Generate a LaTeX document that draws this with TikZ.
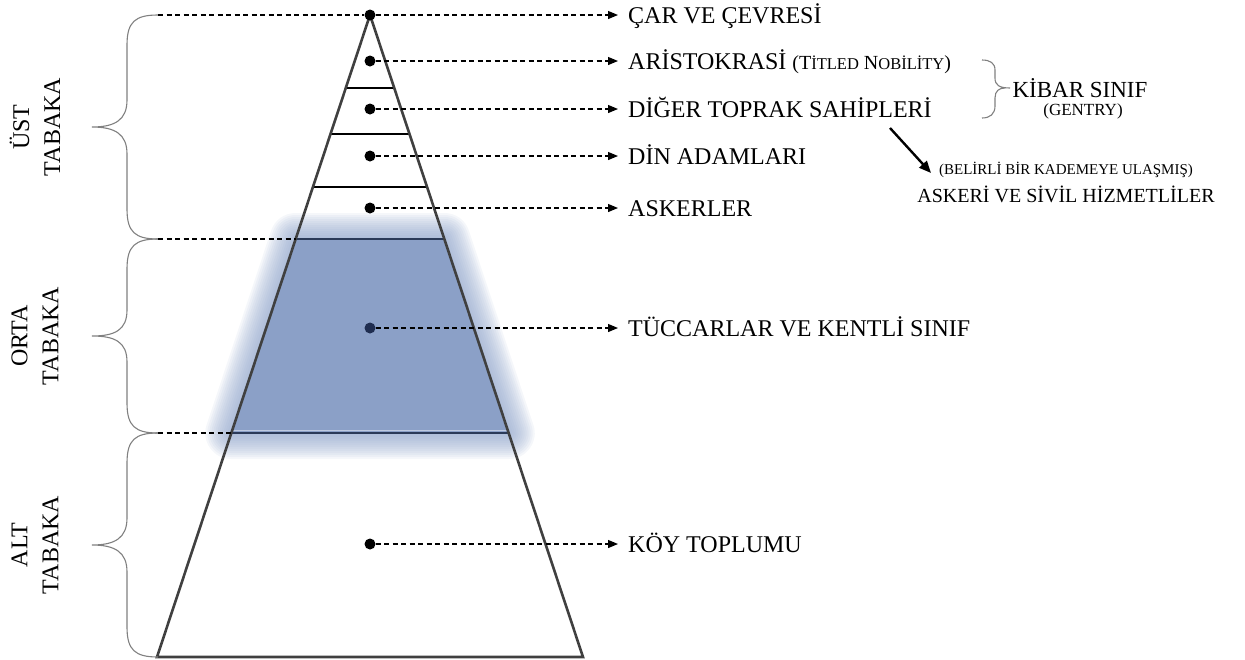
\documentclass[tikz,border=0pt]{standalone}
\usepackage{fontspec}
\setmainfont{Liberation Serif}
\usetikzlibrary{arrows.meta}
\definecolor{outl}{HTML}{404040}
\definecolor{navy}{HTML}{2B3A58}
\definecolor{navydot}{HTML}{1F2D50}
\definecolor{fillb}{HTML}{8BA0C7}
\definecolor{glowb}{HTML}{8FA4CA}
\definecolor{bracec}{HTML}{808080}
\begin{document}
\begin{tikzpicture}[x=1pt,y=-1pt,
  dot/.style={circle, fill=black, inner sep=0pt, minimum size=11pt},
  lbl/.style={anchor=west, inner xsep=10pt, inner ysep=0pt, text height=16pt, text depth=0pt, font=\fontsize{24}{24}\selectfont},
  dasharrow/.style={line width=1.2pt, dash pattern=on 5pt off 3.5pt, -{Triangle[length=10pt,width=8pt]}},
  dashl/.style={line width=1.2pt, dash pattern=on 5pt off 3.5pt},
  bracel/.style={bracec, line width=1.1pt},
  sidelbl/.style={rotate=90, align=center, font=\fontsize{24}{31}\selectfont},
  pyr/.style={outl, line width=2.6pt, line join=miter},
  inner/.style={black, line width=1.4pt},
  navyline/.style={navy, line width=1.6pt}
]
\useasboundingbox (0,0) rectangle (1245,659);

% glow of the middle band
\foreach \w in {52,48,...,4}
  \draw[glowb, line width=\w pt, opacity=0.09, line join=round]
    (295.7,239) -- (444.3,239) -- (508.7,433) -- (231.3,433) -- cycle;
\fill[fillb] (295.7,239) -- (444.3,239) -- (508.7,433) -- (231.3,433) -- cycle;
\draw[white, opacity=0.45, line width=1.5pt] (232.5,430.5) -- (507.5,430.5);

% pyramid
\coordinate (A) at (370,15);
\coordinate (BL) at (157,657);
\coordinate (BR) at (583,657);
\draw[inner] (345.8,88) -- (394.2,88);
\draw[inner] (330.5,134) -- (409.5,134);
\draw[inner] (312.9,187) -- (427.1,187);
\draw[navyline] (295.7,239) -- (444.3,239);
\draw[navyline] (231.3,433) -- (508.7,433);
\draw[pyr] (A) -- (BL) -- (BR) -- cycle;

% left braces
\coordinate (b1t) at (158,15);
\coordinate (b1b) at (158,239);
\coordinate (b2b) at (158,433);
\coordinate (b3b) at (158,657);
\coordinate (m239) at (295.7,239);
\coordinate (m433) at (231.3,433);
\draw[bracel] (b1t) .. controls (135,15) and (127,22) .. (127,45) -- (127,100)
  .. controls (127,120) and (115,127) .. (92,127)
  .. controls (115,127) and (127,134) .. (127,154) -- (127,209)
  .. controls (127,232) and (135,239) .. (b1b);
\draw[bracel] (b1b) .. controls (135,239) and (127,246) .. (127,269) -- (127,310)
  .. controls (127,330) and (115,336) .. (92,336)
  .. controls (115,336) and (127,342) .. (127,362) -- (127,403)
  .. controls (127,426) and (135,433) .. (b2b);
\draw[bracel] (b2b) .. controls (135,433) and (127,440) .. (127,463) -- (127,518)
  .. controls (127,538) and (115,545) .. (92,545)
  .. controls (115,545) and (127,552) .. (127,572) -- (127,627)
  .. controls (127,650) and (135,657) .. (b3b);

\node[sidelbl] (ust) at (35,127) {ÜST\\TABAKA};
\node[sidelbl] (orta) at (35,336) {ORTA\\TABAKA};
\node[sidelbl] (alt) at (35,545) {ALT\\TABAKA};

% dots
\node[dot] (d1) at (370,15) {};
\node[dot] (d2) at (370,61) {};
\node[dot] (d3) at (370,109) {};
\node[dot] (d4) at (370,156) {};
\node[dot] (d5) at (370,208) {};
\node[dot, fill=navydot] (d6) at (370,328) {};
\node[dot] (d7) at (370,544) {};

\draw[dashl] (b1t) -- (d1);
\draw[dashl] (b1b) -- (m239);
\draw[dashl] (b2b) -- (m433);

% labels
\node[lbl] (l1) at (618,15) {ÇAR VE ÇEVRESİ};
\node[lbl] (l2) at (618,61) {ARİSTOKRASİ {\fontsize{20}{20}\selectfont (T{\fontsize{16.5}{16.5}\selectfont İTLED} N{\fontsize{16.5}{16.5}\selectfont OBİLİTY})}};
\node[lbl] (l3) at (618,109) {DİĞER TOPRAK SAHİPLERİ};
\node[lbl] (l4) at (618,156) {DİN ADAMLARI};
\node[lbl] (l5) at (618,208) {ASKERLER};
\node[lbl] (l6) at (618,328) {TÜCCARLAR VE KENTLİ SINIF};
\node[lbl] (l7) at (618,544) {KÖY TOPLUMU};

\foreach \i in {1,...,7} \draw[dasharrow] (d\i) -- (l\i.west);

% right brace and gentry
\coordinate (rb1) at (982,60);
\coordinate (rb2) at (982,118);
\coordinate (rbt) at (1010,88);
\draw[bracel] (rb1) .. controls (990,60) and (995,63) .. (995,70) -- (995,78)
  .. controls (995,85) and (999,88) .. (rbt)
  (1005,88) .. controls (999,88) and (995,91) .. (995,98) -- (995,106)
  .. controls (995,114) and (990,118) .. (rb2);
\node[font=\fontsize{23}{23}\selectfont, inner sep=0pt] (kibar) at (1080,88) {KİBAR SINIF};
\node[font=\fontsize{17}{17}\selectfont, inner sep=0pt] (gentry) at (1083,111) {(GENTRY)};

% servants
\node[font=\fontsize{15}{15}\selectfont, inner sep=0pt] (belirli) at (1066,170) {(BELİRLİ BİR KADEMEYE ULAŞMIŞ)};
\node[font=\fontsize{20}{20}\selectfont, inner sep=0pt] (askeri) at (1066,194) {ASKERİ VE SİVİL HİZMETLİLER};
\coordinate (ar1) at (890,128);
\coordinate (ar2) at (931,173);
\draw[line width=2.4pt, -{Triangle[length=12pt,width=10pt]}] (ar1) -- (ar2);
\end{tikzpicture}
\end{document}
